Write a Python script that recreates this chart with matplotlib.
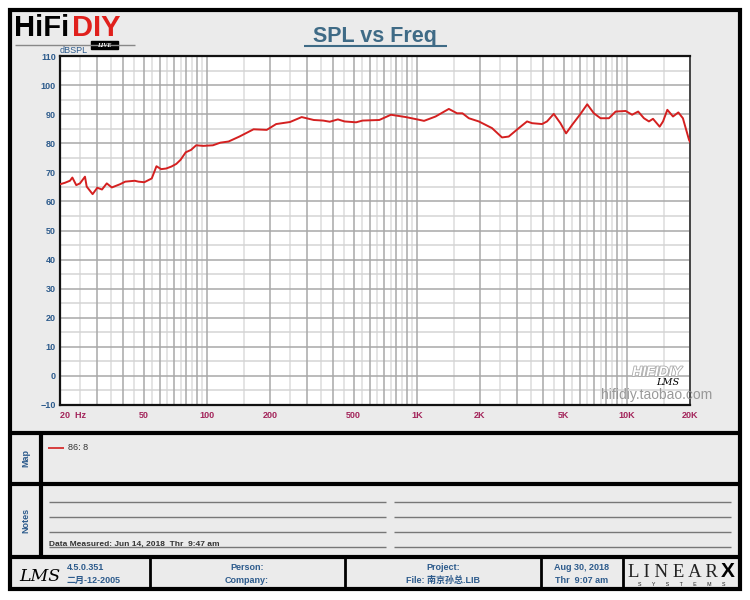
import matplotlib
matplotlib.use('Agg')
import matplotlib.pyplot as plt
import matplotlib.patheffects as pe
from matplotlib.patches import Rectangle

plt.rcParams['font.family'] = ['Liberation Sans', 'Noto Sans CJK SC', 'DejaVu Sans']

# 周波数特性のデータ (読み取り値)
freq = [20, 21.1, 22.3, 22.9, 23.9, 24.9, 26.3, 26.8, 28.6, 30.1,
        31.7, 33.4, 35.3, 38.6, 40.9, 45.4, 47.3, 50.4, 54.7, 57.6,
        60.6, 64, 67.9, 71.6, 75, 79.4, 84.1, 89.0, 96.2, 107,
        116, 127, 143, 167, 193, 214, 249, 283, 323, 358,
        385, 421, 453, 514, 552, 663, 753, 887, 989, 1083,
        1229, 1421, 1555, 1650, 1770, 1974, 2282, 2546, 2740, 3060,
        3350, 3540, 3950, 4170, 4490, 4830, 5140, 5490, 6020, 6480,
        6970, 7500, 8220, 8850, 9880, 10600, 11330, 12070, 12750, 13330,
        14340, 14880, 15600, 16600, 17600, 18500, 19800, 20000]
spl = [65.9, 66.4, 67.1, 68.2, 65.6, 66.2, 68.5, 65.1, 62.5, 64.7,
       64.1, 66.2, 64.8, 65.9, 66.8, 67.1, 66.8, 66.6, 67.9, 72.1,
       71.1, 71.3, 72.0, 72.9, 74.3, 76.9, 77.7, 79.3, 79.1, 79.3,
       80.2, 80.6, 82.3, 84.8, 84.6, 86.6, 87.3, 89.0, 88.0, 87.8,
       87.4, 88.2, 87.5, 87.2, 87.8, 88.0, 89.8, 89.0, 88.3, 87.7,
       89.2, 91.8, 90.3, 90.3, 88.6, 87.5, 85.2, 82.0, 82.3, 85.2,
       87.5, 86.9, 86.6, 87.5, 90.1, 86.9, 83.4, 86.3, 90.1, 93.4,
       90.3, 88.6, 88.6, 90.9, 91.1, 89.8, 90.9, 88.6, 87.5, 88.4,
       85.7, 87.5, 91.5, 89.2, 90.6, 88.6, 81.1, 80.5]

xtick_vals = [20, 50, 100, 200, 500, 1000, 2000, 5000, 10000, 20000]
xtick_labels = ['20  Hz', '50', '100', '200', '500', '1K', '2K', '5K', '10K', '20K']
ytick_vals = list(range(-10, 111, 10))

BLUE = '#2d5b8c'
MAG = '#a3245a'

fig = plt.figure(figsize=(7.5, 6), dpi=100, facecolor='white')

# 背景 (ピクセル座標)
bg = fig.add_axes([0, 0, 1, 1], zorder=0)
bg.set_xlim(0, 750)
bg.set_ylim(600, 0)
bg.axis('off')
bg.add_patch(Rectangle((10, 10), 730, 579, facecolor='#ebebeb', edgecolor='black', lw=3))

def hline(y, x0, x1, c='black', lw=3):
    bg.plot([x0, x1], [y, y], color=c, lw=lw, solid_capstyle='butt')

def vline(x, y0, y1, c='black', lw=3):
    bg.plot([x, x], [y0, y1], color=c, lw=lw, solid_capstyle='butt')

hline(433, 10, 740)
hline(484, 10, 740)
hline(557, 10, 740)
vline(41, 433, 557)
for xv in [150, 345, 541, 623]:
    vline(xv, 557, 589, lw=2)

# ロゴ
bg.text(14, 36, 'HiFi', fontsize=21, fontweight='bold', color='black', ha='left', va='baseline')
bg.text(72, 36, 'DIY', fontsize=21, fontweight='bold', color='#e0201c', ha='left', va='baseline')
hline(45, 15, 135, c='#888888', lw=1)
bg.add_patch(Rectangle((91, 41), 27, 8, facecolor='black', edgecolor='black'))
bg.text(104.5, 45.2, 'LIVE', fontsize=4.5, fontweight='bold', style='italic', color='white',
        family='Liberation Serif', ha='center', va='center')

# タイトル
bg.text(375, 42, 'SPL vs Freq', fontsize=15.5, fontweight='bold', color='#3f6b86',
        ha='center', va='baseline')
hline(45.5, 304, 447, c='#3f6b86', lw=1.5)
bg.text(60, 53, 'dBSPL', fontsize=6.5, color=BLUE, ha='left', va='baseline')

# Map / Notes
bg.text(26, 458, 'Map', fontsize=6.5, fontweight='bold', color=BLUE, rotation=90, ha='center', va='center')
bg.text(26, 520, 'Notes', fontsize=6.5, fontweight='bold', color=BLUE, rotation=90, ha='center', va='center')
hline(448, 48, 64, c='#d42020', lw=1.2)
bg.text(68, 448, '86: 8', fontsize=6.5, color='#333333', ha='left', va='center')
for yv in [502, 517, 532, 547]:
    hline(yv, 49, 386, c='#777777', lw=1)
    hline(yv, 394, 731, c='#777777', lw=1)
bg.text(49, 545.5, 'Data Measured: Jun 14, 2018  Thr  9:47 am', fontsize=6, fontweight='bold',
        color='#333333', ha='left', va='baseline')

# フッター
bg.text(19, 581, 'LMS', fontsize=12.5, style='italic', family='DejaVu Serif', color='black',
        ha='left', va='baseline')
bg.text(67, 570, '4.5.0.351', fontsize=6.5, fontweight='bold', color=BLUE, ha='left', va='baseline')
bg.text(67, 583, '二月-12-2005', fontsize=6.5, fontweight='bold', color=BLUE, ha='left', va='baseline')
bg.text(247, 570, 'Person:', fontsize=6.5, fontweight='bold', color=BLUE, ha='center', va='baseline')
bg.text(247, 583, 'Company:', fontsize=6.5, fontweight='bold', color=BLUE, ha='center', va='baseline')
bg.text(443, 570, 'Project:', fontsize=6.5, fontweight='bold', color=BLUE, ha='center', va='baseline')
bg.text(443, 583, 'File: 南京孙总.LIB', fontsize=6.5, fontweight='bold', color=BLUE, ha='center', va='baseline')
bg.text(582, 570, 'Aug 30, 2018', fontsize=6.5, fontweight='bold', color=BLUE, ha='center', va='baseline')
bg.text(582, 583, 'Thr  9:07 am', fontsize=6.5, fontweight='bold', color=BLUE, ha='center', va='baseline')
bg.text(628, 577, 'L I N E A R', fontsize=13.5, family='Liberation Serif', color='#222222',
        ha='left', va='baseline')
bg.text(735, 577, 'X', fontsize=15, fontweight='bold', color='black', ha='right', va='baseline')
bg.text(682, 586, 'S       Y       S       T       E       M       S', fontsize=3.8, color='#222222',
        ha='center', va='baseline')

# グラフ本体
ax = fig.add_axes([60 / 750, 1 - 405 / 600, 630 / 750, 349 / 600], zorder=1)
ax.set_facecolor('white')
ax.set_xscale('log')
ax.set_xlim(20, 20000)
ax.set_ylim(-10, 110)

for dec in [10, 100, 1000, 10000]:
    for m in range(1, 10):
        f = dec * m
        if 20 < f < 20000:
            ax.axvline(f, color='#a8a8a8', lw=1.1, zorder=1)
        fh = dec * (m + 0.5)
        if 20 < fh < 20000:
            ax.axvline(fh, color='#dcdcdc', lw=1.1, zorder=0.9)
for v in range(-10, 111, 5):
    if v % 10 == 0:
        ax.axhline(v, color='#a8a8a8', lw=1.1, zorder=1)
    else:
        ax.axhline(v, color='#d4d4d4', lw=1.1, zorder=0.9)

ax.plot(freq, spl, color='#d42020', lw=1.4, zorder=3)

ax.set_xticks(xtick_vals, xtick_labels)
ax.set_xticks([], minor=True)
ax.set_yticks(ytick_vals)
ax.tick_params(axis='both', length=0)
ax.tick_params(axis='x', pad=4, labelsize=6.5, labelcolor=MAG)
ax.tick_params(axis='y', pad=3, labelsize=6.5, labelcolor=BLUE)
for lab in ax.get_xticklabels() + ax.get_yticklabels():
    lab.set_fontweight('bold')
ax.get_xticklabels()[0].set_horizontalalignment('left')
for side in ['left', 'bottom', 'top']:
    ax.spines[side].set_color('#111111')
    ax.spines[side].set_linewidth(1.6)
ax.spines['right'].set_color('#444444')
ax.spines['right'].set_linewidth(1.4)

# 透かし
top = fig.add_axes([0, 0, 1, 1], zorder=2)
top.set_xlim(0, 750)
top.set_ylim(600, 0)
top.axis('off')
top.text(657, 372, 'HIFIDIY', fontsize=10, fontweight='bold', style='italic', color='white',
         ha='center', va='center',
         path_effects=[pe.withStroke(linewidth=1.2, foreground='#aaaaaa')])
top.text(657, 395, 'hifidiy.taobao.com', fontsize=10, color='#8f8f8f', alpha=0.9,
         ha='center', va='center')
top.text(668, 382.5, 'LMS', fontsize=7, style='italic', family='DejaVu Serif', color='black',
         ha='center', va='center')

fig.savefig('out.png', dpi=100, facecolor='white')
plt.close()
